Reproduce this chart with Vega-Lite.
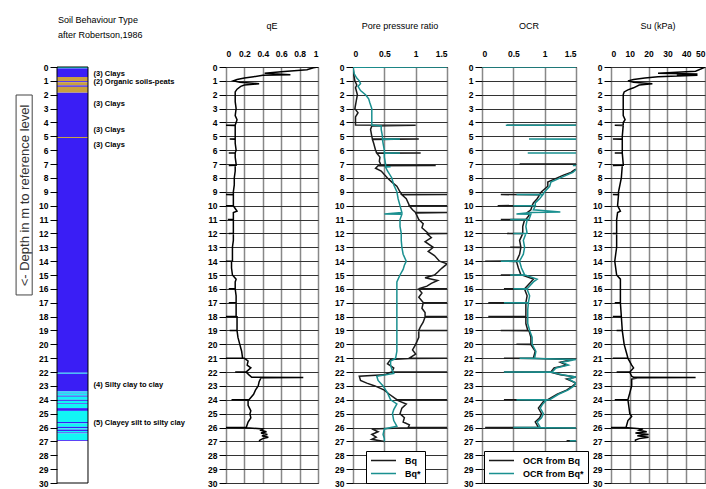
{
"$schema": "https://vega.github.io/schema/vega-lite/v6.json",
"autosize": {"type": "none"},
"padding": {"left": 57, "top": 67, "right": 649, "bottom": 422},
"background": "white",
"config": {
  "font": "Liberation Sans",
  "view": {"stroke": "black", "strokeWidth": 1},
  "axis": {"labelFont": "Liberation Sans", "labelFontSize": 8.5, "labelFontWeight": "bold", "labelColor": "black", "tickColor": "black", "domain": false},
  "axisY": {"grid": true, "gridColor": "#333", "gridWidth": 1, "tickSize": 7, "labelPadding": 2},
  "axisX": {"grid": true, "gridColor": "#888", "gridWidth": 1.5, "ticks": false, "labelPadding": 9},
  "title": {"font": "Liberation Sans", "fontSize": 9, "fontWeight": "normal", "color": "black", "offset": 18},
  "legend": {"orient": "none", "title": null, "strokeColor": "black", "fillColor": "white", "padding": 4, "symbolType": "stroke", "symbolSize": 625, "clipHeight": 11, "symbolStrokeWidth": 1.5, "labelFont": "Liberation Sans", "labelFontSize": 9, "labelFontWeight": "bold", "labelColor": "black", "rowPadding": 2, "labelOffset": 8, "cornerRadius": 0}
},
"resolve": {"scale": {"color": "independent", "x": "independent", "y": "independent"}, "legend": {"color": "independent"}},
"datasets": {
  "soil": [
    {"d0":0,"d1":0.1,"t":"c"},{"d0":0.1,"d1":0.72,"t":"b"},{"d0":0.72,"d1":1.02,"t":"g"},{"d0":1.02,"d1":1.1,"t":"b"},{"d0":1.1,"d1":1.33,"t":"g"},{"d0":1.33,"d1":1.43,"t":"b"},{"d0":1.43,"d1":1.85,"t":"g"},{"d0":1.85,"d1":5.05,"t":"b"},{"d0":5.05,"d1":5.12,"t":"g"},{"d0":5.12,"d1":22.05,"t":"b"},{"d0":22.05,"d1":22.12,"t":"c"},{"d0":22.12,"d1":23.4,"t":"b"},{"d0":23.4,"d1":23.5,"t":"c"},{"d0":23.5,"d1":23.55,"t":"b"},{"d0":23.55,"d1":23.7,"t":"c"},{"d0":23.7,"d1":23.78,"t":"b"},{"d0":23.78,"d1":24.0,"t":"c"},{"d0":24.0,"d1":24.08,"t":"b"},{"d0":24.08,"d1":24.25,"t":"c"},{"d0":24.25,"d1":24.3,"t":"b"},{"d0":24.3,"d1":24.6,"t":"c"},{"d0":24.6,"d1":24.8,"t":"b"},{"d0":24.8,"d1":25.6,"t":"c"},{"d0":25.6,"d1":25.7,"t":"b"},{"d0":25.7,"d1":25.95,"t":"c"},{"d0":25.95,"d1":26.05,"t":"b"},{"d0":26.05,"d1":26.15,"t":"c"},{"d0":26.15,"d1":26.25,"t":"b"},{"d0":26.25,"d1":26.35,"t":"c"},{"d0":26.35,"d1":26.42,"t":"b"},{"d0":26.42,"d1":26.9,"t":"c"},{"d0":26.9,"d1":26.96,"t":"b"}
  ],
  "labels": [
    {"d":0.5,"label":"(3) Clays"},{"d":1.1,"label":"(2) Organic soils-peats"},{"d":2.7,"label":"(3) Clays"},{"d":4.55,"label":"(3) Clays"},{"d":5.66,"label":"(3) Clays"},{"d":22.9,"label":"(4) Silty clay to clay"},{"d":25.7,"label":"(5) Clayey silt to silty clay"}
  ],
  "qE": [
    {"d":0,"v":1},{"d":0.05,"v":0.95},{"d":0.2,"v":0.88},{"d":0.35,"v":0.6},{"d":0.45,"v":0.42},{"d":0.55,"v":0.7},{"d":0.6,"v":0.4},{"d":0.7,"v":0.3},{"d":0.8,"v":0.2},{"d":0.9,"v":0.12},{"d":1.0,"v":0.08},{"d":1.1,"v":0.15},{"d":1.2,"v":0.36},{"d":1.3,"v":0.2},{"d":1.4,"v":0.16},{"d":1.6,"v":0.12},{"d":1.8,"v":0.1},{"d":2.0,"v":0.1},{"d":2.5,"v":0.1},{"d":3.0,"v":0.11},{"d":3.5,"v":0.1},{"d":3.8,"v":0.12},{"d":4.0,"v":0.11},{"d":4.19,"v":0.1},{"d":4.2,"v":0.0},{"d":4.21,"v":0.1},{"d":4.5,"v":0.1},{"d":5.0,"v":0.1},{"d":5.19,"v":0.1},{"d":5.2,"v":0.04},{"d":5.21,"v":0.1},{"d":5.5,"v":0.1},{"d":6.0,"v":0.11},{"d":6.19,"v":0.1},{"d":6.2,"v":0.03},{"d":6.21,"v":0.1},{"d":6.5,"v":0.1},{"d":7.0,"v":0.11},{"d":7.09,"v":0.11},{"d":7.1,"v":0.03},{"d":7.11,"v":0.1},{"d":7.5,"v":0.1},{"d":8.0,"v":0.09},{"d":8.5,"v":0.09},{"d":9.0,"v":0.08},{"d":9.19,"v":0.08},{"d":9.2,"v":0.0},{"d":9.21,"v":0.08},{"d":9.5,"v":0.08},{"d":9.99,"v":0.08},{"d":10.0,"v":0.0},{"d":10.01,"v":0.08},{"d":10.4,"v":0.12},{"d":10.5,"v":0.08},{"d":10.99,"v":0.08},{"d":11.0,"v":0.02},{"d":11.01,"v":0.08},{"d":11.5,"v":0.08},{"d":11.99,"v":0.08},{"d":12.0,"v":0.03},{"d":12.01,"v":0.08},{"d":12.5,"v":0.08},{"d":13.0,"v":0.07},{"d":13.5,"v":0.07},{"d":13.99,"v":0.07},{"d":14.0,"v":0.0},{"d":14.01,"v":0.06},{"d":14.5,"v":0.06},{"d":15.0,"v":0.07},{"d":15.3,"v":0.11},{"d":15.5,"v":0.1},{"d":15.99,"v":0.1},{"d":16.0,"v":0.03},{"d":16.01,"v":0.1},{"d":16.5,"v":0.11},{"d":16.99,"v":0.11},{"d":17.0,"v":0.03},{"d":17.01,"v":0.11},{"d":17.5,"v":0.11},{"d":17.99,"v":0.11},{"d":18.0,"v":0.0},{"d":18.01,"v":0.12},{"d":18.5,"v":0.12},{"d":18.99,"v":0.12},{"d":19.0,"v":0.04},{"d":19.01,"v":0.12},{"d":19.5,"v":0.13},{"d":20.0,"v":0.15},{"d":20.5,"v":0.17},{"d":20.99,"v":0.18},{"d":21.0,"v":0.0},{"d":21.01,"v":0.2},{"d":21.2,"v":0.24},{"d":21.5,"v":0.23},{"d":21.7,"v":0.27},{"d":21.99,"v":0.22},{"d":22.0,"v":0.1},{"d":22.01,"v":0.22},{"d":22.2,"v":0.25},{"d":22.38,"v":0.28},{"d":22.4,"v":0.84},{"d":22.42,"v":0.38},{"d":22.7,"v":0.36},{"d":23.0,"v":0.35},{"d":23.3,"v":0.32},{"d":23.6,"v":0.3},{"d":23.99,"v":0.25},{"d":24.0,"v":0.06},{"d":24.01,"v":0.24},{"d":24.4,"v":0.24},{"d":24.8,"v":0.27},{"d":25.0,"v":0.26},{"d":25.3,"v":0.27},{"d":25.6,"v":0.24},{"d":25.99,"v":0.22},{"d":26.0,"v":0.0},{"d":26.02,"v":0.22},{"d":26.1,"v":0.4},{"d":26.2,"v":0.38},{"d":26.3,"v":0.44},{"d":26.4,"v":0.38},{"d":26.5,"v":0.45},{"d":26.6,"v":0.39},{"d":26.7,"v":0.46},{"d":26.8,"v":0.4},{"d":26.9,"v":0.37},{"d":27.0,"v":0.36}
  ],
  "Bq": [
    {"d":0,"v":0.0},{"d":0.5,"v":0.01},{"d":1.0,"v":0.03},{"d":1.3,"v":0.06},{"d":1.5,"v":0.04},{"d":2.0,"v":0.07},{"d":2.5,"v":0.05},{"d":3.0,"v":0.03},{"d":3.3,"v":0.08},{"d":3.6,"v":0.04},{"d":4.0,"v":0.04},{"d":4.19,"v":0.04},{"d":4.2,"v":1.0},{"d":4.25,"v":0.3},{"d":4.5,"v":0.28},{"d":5.0,"v":0.3},{"d":5.19,"v":0.31},{"d":5.2,"v":1.05},{"d":5.22,"v":0.31},{"d":5.5,"v":0.33},{"d":6.0,"v":0.36},{"d":6.19,"v":0.38},{"d":6.2,"v":1.08},{"d":6.22,"v":0.38},{"d":6.5,"v":0.43},{"d":6.8,"v":0.42},{"d":7.0,"v":0.44},{"d":7.09,"v":0.45},{"d":7.1,"v":1.32},{"d":7.12,"v":0.4},{"d":7.3,"v":0.36},{"d":7.5,"v":0.45},{"d":8.0,"v":0.55},{"d":8.3,"v":0.62},{"d":8.6,"v":0.7},{"d":9.0,"v":0.75},{"d":9.19,"v":0.78},{"d":9.2,"v":1.5},{"d":9.22,"v":0.78},{"d":9.5,"v":0.85},{"d":9.99,"v":0.9},{"d":10.0,"v":1.5},{"d":10.02,"v":0.9},{"d":10.3,"v":0.95},{"d":10.49,"v":1.0},{"d":10.5,"v":1.5},{"d":10.52,"v":1.0},{"d":11.0,"v":1.05},{"d":11.3,"v":1.12},{"d":11.6,"v":1.1},{"d":11.99,"v":1.2},{"d":12.0,"v":1.5},{"d":12.02,"v":1.18},{"d":12.3,"v":1.25},{"d":12.6,"v":1.15},{"d":13.0,"v":1.28},{"d":13.3,"v":1.2},{"d":13.6,"v":1.3},{"d":14.0,"v":1.38},{"d":14.2,"v":1.5},{"d":14.5,"v":1.42},{"d":14.8,"v":1.35},{"d":15.0,"v":1.3},{"d":15.2,"v":1.15},{"d":15.4,"v":1.35},{"d":15.6,"v":1.25},{"d":15.8,"v":1.18},{"d":15.99,"v":1.05},{"d":16.0,"v":1.5},{"d":16.02,"v":1.05},{"d":16.3,"v":1.1},{"d":16.6,"v":1.05},{"d":16.99,"v":1.12},{"d":17.0,"v":1.5},{"d":17.02,"v":1.12},{"d":17.4,"v":1.1},{"d":17.7,"v":1.15},{"d":17.99,"v":1.15},{"d":18.0,"v":1.5},{"d":18.02,"v":1.15},{"d":18.4,"v":1.12},{"d":18.7,"v":1.08},{"d":18.99,"v":1.05},{"d":19.0,"v":1.5},{"d":19.02,"v":1.05},{"d":19.5,"v":1.05},{"d":20.0,"v":1.0},{"d":20.4,"v":0.95},{"d":20.7,"v":1.0},{"d":20.99,"v":0.9},{"d":21.0,"v":1.5},{"d":21.02,"v":0.9},{"d":21.1,"v":0.6},{"d":21.4,"v":0.55},{"d":21.7,"v":0.65},{"d":21.99,"v":0.62},{"d":22.0,"v":1.5},{"d":22.02,"v":0.6},{"d":22.2,"v":0.5},{"d":22.3,"v":0.1},{"d":22.6,"v":0.12},{"d":22.8,"v":0.22},{"d":23.0,"v":0.35},{"d":23.3,"v":0.5},{"d":23.6,"v":0.58},{"d":23.99,"v":0.7},{"d":24.0,"v":1.5},{"d":24.02,"v":0.7},{"d":24.3,"v":0.85},{"d":24.6,"v":0.78},{"d":25.0,"v":0.75},{"d":25.3,"v":0.82},{"d":25.6,"v":0.8},{"d":25.8,"v":0.9},{"d":25.99,"v":0.88},{"d":26.0,"v":1.5},{"d":26.02,"v":0.88},{"d":26.1,"v":0.3},{"d":26.3,"v":0.4},{"d":26.5,"v":0.3},{"d":26.7,"v":0.37},{"d":26.85,"v":0.3},{"d":27.0,"v":0.5}
  ],
  "Bqs": [
    {"d":0,"v":1.5},{"d":0.02,"v":0.0},{"d":0.5,"v":0.02},{"d":0.8,"v":0.06},{"d":1.0,"v":0.1},{"d":1.2,"v":0.12},{"d":1.4,"v":0.08},{"d":1.7,"v":0.12},{"d":2.0,"v":0.2},{"d":2.3,"v":0.25},{"d":2.6,"v":0.27},{"d":3.0,"v":0.3},{"d":3.5,"v":0.3},{"d":4.0,"v":0.3},{"d":4.19,"v":0.3},{"d":4.25,"v":0.45},{"d":4.5,"v":0.45},{"d":5.0,"v":0.47},{"d":5.19,"v":0.47},{"d":5.2,"v":0.75},{"d":5.22,"v":0.47},{"d":5.5,"v":0.48},{"d":6.0,"v":0.5},{"d":6.19,"v":0.5},{"d":6.2,"v":0.75},{"d":6.22,"v":0.5},{"d":6.5,"v":0.5},{"d":7.0,"v":0.52},{"d":7.19,"v":0.52},{"d":7.2,"v":0.6},{"d":7.22,"v":0.52},{"d":7.5,"v":0.55},{"d":8.0,"v":0.62},{"d":8.5,"v":0.65},{"d":9.0,"v":0.7},{"d":9.5,"v":0.72},{"d":10.0,"v":0.75},{"d":10.5,"v":0.78},{"d":10.6,"v":0.5},{"d":10.62,"v":0.78},{"d":11.0,"v":0.75},{"d":11.5,"v":0.75},{"d":12.0,"v":0.77},{"d":12.5,"v":0.77},{"d":13.0,"v":0.78},{"d":13.5,"v":0.8},{"d":14.0,"v":0.85},{"d":14.3,"v":0.82},{"d":14.6,"v":0.8},{"d":15.0,"v":0.75},{"d":15.5,"v":0.7},{"d":16.0,"v":0.7},{"d":17.0,"v":0.7},{"d":18.0,"v":0.7},{"d":19.0,"v":0.7},{"d":20.0,"v":0.7},{"d":20.5,"v":0.7},{"d":21.0,"v":0.68},{"d":21.2,"v":0.6},{"d":21.5,"v":0.6},{"d":21.8,"v":0.62},{"d":22.1,"v":0.65},{"d":22.3,"v":0.38},{"d":22.6,"v":0.4},{"d":23.0,"v":0.48},{"d":23.5,"v":0.55},{"d":24.0,"v":0.6},{"d":24.3,"v":0.7},{"d":24.7,"v":0.65},{"d":25.0,"v":0.63},{"d":25.5,"v":0.65},{"d":25.9,"v":0.7},{"d":26.1,"v":0.5},{"d":26.5,"v":0.48},{"d":26.8,"v":0.5},{"d":27.0,"v":0.5}
  ],
  "OCRBq": [
    {"d":0,"v":3},{"d":4.19,"v":3},{"d":4.2,"v":0.4},{"d":4.22,"v":3},{"d":6.99,"v":3},{"d":7.0,"v":0.6},{"d":7.02,"v":3},{"d":7.25,"v":1.6},{"d":7.4,"v":1.48},{"d":7.6,"v":1.42},{"d":7.8,"v":1.3},{"d":8.0,"v":1.2},{"d":8.3,"v":1.05},{"d":8.6,"v":1.05},{"d":9.0,"v":0.95},{"d":9.19,"v":0.92},{"d":9.2,"v":0.3},{"d":9.22,"v":0.92},{"d":9.5,"v":0.88},{"d":9.8,"v":0.82},{"d":9.99,"v":0.8},{"d":10.0,"v":0.25},{"d":10.02,"v":0.8},{"d":10.3,"v":0.78},{"d":10.5,"v":0.72},{"d":10.7,"v":0.75},{"d":10.99,"v":0.7},{"d":11.0,"v":0.3},{"d":11.02,"v":0.68},{"d":11.5,"v":0.65},{"d":11.99,"v":0.65},{"d":12.0,"v":0.4},{"d":12.02,"v":0.65},{"d":12.5,"v":0.6},{"d":12.99,"v":0.62},{"d":13.0,"v":0.45},{"d":13.02,"v":0.62},{"d":13.5,"v":0.6},{"d":13.99,"v":0.55},{"d":14.0,"v":0.05},{"d":14.02,"v":0.55},{"d":14.5,"v":0.58},{"d":14.99,"v":0.62},{"d":15.0,"v":0.3},{"d":15.02,"v":0.65},{"d":15.3,"v":0.82},{"d":15.5,"v":0.78},{"d":15.99,"v":0.68},{"d":16.0,"v":0.35},{"d":16.02,"v":0.68},{"d":16.5,"v":0.72},{"d":16.99,"v":0.7},{"d":17.0,"v":0.1},{"d":17.02,"v":0.7},{"d":17.5,"v":0.7},{"d":17.99,"v":0.7},{"d":18.0,"v":0.1},{"d":18.02,"v":0.7},{"d":18.5,"v":0.7},{"d":18.99,"v":0.73},{"d":19.0,"v":0.3},{"d":19.02,"v":0.75},{"d":19.5,"v":0.78},{"d":19.99,"v":0.78},{"d":20.0,"v":0.55},{"d":20.02,"v":0.78},{"d":20.5,"v":0.85},{"d":20.99,"v":0.82},{"d":21.0,"v":0.35},{"d":21.02,"v":0.85},{"d":21.1,"v":1.45},{"d":21.3,"v":1.25},{"d":21.5,"v":1.35},{"d":21.7,"v":1.15},{"d":21.99,"v":1.1},{"d":22.0,"v":0.35},{"d":22.02,"v":1.1},{"d":22.2,"v":1.25},{"d":22.35,"v":1.5},{"d":22.5,"v":1.35},{"d":22.8,"v":1.5},{"d":23.0,"v":1.45},{"d":23.3,"v":1.35},{"d":23.6,"v":1.2},{"d":23.99,"v":1.05},{"d":24.0,"v":0.35},{"d":24.02,"v":1.0},{"d":24.3,"v":0.95},{"d":24.6,"v":0.9},{"d":25.0,"v":0.95},{"d":25.3,"v":0.92},{"d":25.6,"v":0.85},{"d":25.99,"v":0.9},{"d":26.0,"v":0.05},{"d":26.02,"v":0.92},{"d":26.1,"v":3},{"d":26.9,"v":3},{"d":26.95,"v":1.35},{"d":27.0,"v":3}
  ],
  "OCRBqs": [
    {"d":0,"v":0},{"d":0.005,"v":3},{"d":4.19,"v":3},{"d":4.2,"v":0.38},{"d":4.22,"v":3},{"d":5.19,"v":3},{"d":5.2,"v":0.75},{"d":5.22,"v":3},{"d":6.19,"v":3},{"d":6.2,"v":0.73},{"d":6.22,"v":3},{"d":7.05,"v":3},{"d":7.1,"v":1.45},{"d":7.15,"v":3},{"d":7.25,"v":1.6},{"d":7.4,"v":1.5},{"d":7.6,"v":1.45},{"d":7.8,"v":1.35},{"d":8.0,"v":1.25},{"d":8.3,"v":1.1},{"d":8.6,"v":1.08},{"d":9.0,"v":1.0},{"d":9.19,"v":0.97},{"d":9.2,"v":0.55},{"d":9.22,"v":0.97},{"d":9.5,"v":0.92},{"d":9.8,"v":0.85},{"d":9.99,"v":0.85},{"d":10.0,"v":0.5},{"d":10.02,"v":0.85},{"d":10.3,"v":0.82},{"d":10.45,"v":1.25},{"d":10.5,"v":0.78},{"d":10.6,"v":0.55},{"d":10.62,"v":0.78},{"d":10.99,"v":0.75},{"d":11.0,"v":0.45},{"d":11.02,"v":0.72},{"d":11.5,"v":0.7},{"d":11.99,"v":0.72},{"d":12.0,"v":0.5},{"d":12.02,"v":0.7},{"d":12.5,"v":0.66},{"d":13.0,"v":0.68},{"d":13.5,"v":0.66},{"d":13.99,"v":0.6},{"d":14.0,"v":0.3},{"d":14.02,"v":0.6},{"d":14.5,"v":0.63},{"d":14.99,"v":0.68},{"d":15.0,"v":0.45},{"d":15.02,"v":0.7},{"d":15.3,"v":0.88},{"d":15.5,"v":0.82},{"d":15.99,"v":0.72},{"d":16.0,"v":0.5},{"d":16.02,"v":0.72},{"d":16.5,"v":0.76},{"d":16.99,"v":0.74},{"d":17.0,"v":0.35},{"d":17.02,"v":0.74},{"d":17.5,"v":0.73},{"d":18.0,"v":0.73},{"d":18.5,"v":0.73},{"d":19.0,"v":0.76},{"d":19.5,"v":0.8},{"d":20.0,"v":0.8},{"d":20.5,"v":0.86},{"d":20.99,"v":0.84},{"d":21.0,"v":0.6},{"d":21.02,"v":0.86},{"d":21.1,"v":1.5},{"d":21.3,"v":1.28},{"d":21.5,"v":1.38},{"d":21.7,"v":1.18},{"d":21.99,"v":1.12},{"d":22.0,"v":0.35},{"d":22.02,"v":1.12},{"d":22.2,"v":1.28},{"d":22.35,"v":1.5},{"d":22.5,"v":1.38},{"d":22.8,"v":1.5},{"d":23.0,"v":1.47},{"d":23.3,"v":1.37},{"d":23.6,"v":1.22},{"d":23.99,"v":1.08},{"d":24.0,"v":0.55},{"d":24.02,"v":1.03},{"d":24.3,"v":0.97},{"d":24.6,"v":0.93},{"d":25.0,"v":0.98},{"d":25.3,"v":0.95},{"d":25.6,"v":0.88},{"d":25.99,"v":0.93},{"d":26.0,"v":0.5},{"d":26.02,"v":0.95},{"d":26.1,"v":3},{"d":26.9,"v":3},{"d":26.95,"v":1.4},{"d":27.0,"v":3}
  ],
  "Su": [
    {"d":0,"v":20},{"d":0.02,"v":50},{"d":0.3,"v":45},{"d":0.42,"v":30},{"d":0.45,"v":25},{"d":0.5,"v":46},{"d":0.55,"v":35},{"d":0.6,"v":46},{"d":0.7,"v":25},{"d":0.8,"v":18},{"d":0.9,"v":12},{"d":1.0,"v":9},{"d":1.1,"v":12},{"d":1.2,"v":22},{"d":1.3,"v":15},{"d":1.5,"v":12},{"d":1.65,"v":9},{"d":1.8,"v":7},{"d":2.0,"v":6.5},{"d":2.5,"v":6.5},{"d":3.0,"v":6.5},{"d":3.5,"v":6.5},{"d":3.8,"v":7.5},{"d":4.0,"v":6.5},{"d":4.19,"v":6.5},{"d":4.2,"v":2},{"d":4.21,"v":6.5},{"d":5.0,"v":6},{"d":5.19,"v":6},{"d":5.2,"v":1},{"d":5.21,"v":6},{"d":6.0,"v":6},{"d":6.19,"v":6},{"d":6.2,"v":2},{"d":6.21,"v":6},{"d":7.0,"v":6.5},{"d":7.09,"v":6.5},{"d":7.1,"v":1},{"d":7.11,"v":6},{"d":8.0,"v":5.5},{"d":9.0,"v":4},{"d":9.19,"v":4},{"d":9.2,"v":1},{"d":9.21,"v":4},{"d":10.0,"v":3.5},{"d":10.4,"v":5},{"d":10.5,"v":3.5},{"d":11.0,"v":3},{"d":12.0,"v":3},{"d":12.01,"v":1},{"d":12.02,"v":3},{"d":13.0,"v":3},{"d":14.0,"v":2},{"d":14.5,"v":2.5},{"d":15.0,"v":3},{"d":15.3,"v":5},{"d":16.0,"v":5},{"d":16.99,"v":5},{"d":17.0,"v":2},{"d":17.01,"v":5},{"d":17.99,"v":5.5},{"d":18.0,"v":1},{"d":18.01,"v":5.5},{"d":18.99,"v":6},{"d":19.0,"v":3},{"d":19.01,"v":6},{"d":20.0,"v":7},{"d":20.5,"v":8},{"d":20.99,"v":9},{"d":21.0,"v":1},{"d":21.01,"v":9},{"d":21.5,"v":11},{"d":21.7,"v":12},{"d":21.99,"v":10},{"d":22.0,"v":3},{"d":22.01,"v":10},{"d":22.3,"v":11},{"d":22.38,"v":12},{"d":22.4,"v":45},{"d":22.42,"v":14},{"d":22.5,"v":11},{"d":23.0,"v":11},{"d":23.5,"v":10},{"d":23.99,"v":9},{"d":24.0,"v":2},{"d":24.01,"v":9},{"d":24.5,"v":9.5},{"d":25.0,"v":10},{"d":25.2,"v":11},{"d":25.5,"v":9},{"d":25.99,"v":8},{"d":26.0,"v":0},{"d":26.02,"v":9},{"d":26.1,"v":17},{"d":26.2,"v":15},{"d":26.3,"v":19},{"d":26.4,"v":13},{"d":26.5,"v":20},{"d":26.6,"v":14},{"d":26.7,"v":20},{"d":26.8,"v":15},{"d":26.9,"v":13},{"d":27.0,"v":13}
  ]
},
"bounds": "flush",
"spacing": 35,
"hconcat": [
  {
    "width": 134, "height": 416,
    "view": {"stroke": null},
    "title": {"text": ["Soil Behaviour Type", "after Robertson,1986"], "anchor": "start", "frame": "group", "lineHeight": 15, "offset": 23, "dx": 1},
    "encoding": {
      "y": {"type": "quantitative", "scale": {"domain": [0, 30], "reverse": true, "nice": false},
            "axis": {"values": [0,1,2,3,4,5,6,7,8,9,10,11,12,13,14,15,16,17,18,19,20,21,22,23,24,25,26,27,28,29,30], "grid": false, "zindex": 1,
                     "title": "<- Depth in m to reference level", "titleAngle": -90, "titleX": -33, "titleY": 128, "titleAlign": "center", "titleBaseline": "middle",
                     "titleFont": "Liberation Sans", "titleFontSize": 13, "titleFontWeight": "normal", "titleColor": "#333"}}
    },
    "layer": [
      {
        "data": {"values": [{}]},
        "mark": {"type": "rect", "fill": null, "stroke": "#444", "strokeWidth": 1},
        "encoding": {
          "x": {"datum": -1.32, "type": "quantitative", "scale": {"domain": [0, 4.3226], "nice": false, "zero": false}, "axis": null},
          "x2": {"datum": -0.8},
          "y": {"datum": 2.02, "type": "quantitative"},
          "y2": {"datum": 16.44}
        }
      },
      {
        "data": {"name": "soil"},
        "mark": {"type": "rect"},
        "encoding": {
          "x": {"datum": 0, "type": "quantitative"},
          "x2": {"datum": 1},
          "y": {"field": "d0", "type": "quantitative"},
          "y2": {"field": "d1"},
          "color": {"field": "t", "type": "nominal", "scale": {"domain": ["b", "g", "c"], "range": ["#3a1ef5", "#c8a040", "#12f5f5"]}, "legend": null}
        }
      },
      {
        "data": {"values": [{}]},
        "mark": {"type": "rect", "fill": null, "stroke": "black", "strokeWidth": 1},
        "encoding": {
          "x": {"datum": 0, "type": "quantitative"},
          "x2": {"datum": 1},
          "y": {"datum": 0, "type": "quantitative"},
          "y2": {"datum": 30}
        }
      },
      {
        "data": {"name": "labels"},
        "mark": {"type": "text", "align": "left", "baseline": "middle", "font": "Liberation Sans", "fontSize": 7.5, "fontWeight": "bold", "color": "black"},
        "encoding": {
          "x": {"datum": 1.18, "type": "quantitative"},
          "y": {"field": "d", "type": "quantitative"},
          "text": {"field": "label"}
        }
      }
    ]
  },
  {
    "width": 92, "height": 416,
    "title": {"text": "qE"},
    "data": {"name": "qE"},
    "mark": {"type": "line", "clip": true, "strokeWidth": 1.5, "color": "black"},
    "encoding": {
      "x": {"field": "v", "type": "quantitative", "scale": {"domain": [0, 1], "nice": false}, "axis": {"orient": "top", "values": [0, 0.2, 0.4, 0.6, 0.8, 1], "format": "~g", "title": null}},
      "y": {"field": "d", "type": "quantitative", "scale": {"domain": [0, 30], "reverse": true, "nice": false}, "axis": {"values": [0,1,2,3,4,5,6,7,8,9,10,11,12,13,14,15,16,17,18,19,20,21,22,23,24,25,26,27,28,29,30], "title": null}},
      "order": {"field": "d", "type": "quantitative"}
    }
  },
  {
    "width": 94, "height": 416,
    "title": {"text": "Pore pressure ratio"},
    "encoding": {
      "x": {"field": "v", "type": "quantitative", "scale": {"domain": [0, 1.5], "nice": false}, "axis": {"orient": "top", "values": [0, 0.5, 1, 1.5], "format": "~g", "title": null}},
      "y": {"field": "d", "type": "quantitative", "scale": {"domain": [0, 30], "reverse": true, "nice": false}, "axis": {"values": [0,1,2,3,4,5,6,7,8,9,10,11,12,13,14,15,16,17,18,19,20,21,22,23,24,25,26,27,28,29,30], "title": null}},
      "order": {"field": "d", "type": "quantitative"}
    },
    "layer": [
      {"data": {"name": "Bq"}, "mark": {"type": "line", "clip": true, "strokeWidth": 1.5},
       "encoding": {"color": {"datum": "Bq", "type": "nominal", "scale": {"domain": ["Bq", "Bq*"], "range": ["#1a1a1a", "#1a9090"]}, "legend": {"legendX": 13, "legendY": 384}}}},
      {"data": {"name": "Bqs"}, "mark": {"type": "line", "clip": true, "strokeWidth": 1.5},
       "encoding": {"color": {"datum": "Bq*", "type": "nominal"}}}
    ]
  },
  {
    "width": 94, "height": 416,
    "title": {"text": "OCR"},
    "encoding": {
      "x": {"field": "v", "type": "quantitative", "scale": {"domain": [0, 1.5], "nice": false}, "axis": {"orient": "top", "values": [0, 0.5, 1, 1.5], "format": "~g", "title": null}},
      "y": {"field": "d", "type": "quantitative", "scale": {"domain": [0, 30], "reverse": true, "nice": false}, "axis": {"values": [0,1,2,3,4,5,6,7,8,9,10,11,12,13,14,15,16,17,18,19,20,21,22,23,24,25,26,27,28,29,30], "title": null}},
      "order": {"field": "d", "type": "quantitative"}
    },
    "layer": [
      {"data": {"name": "OCRBq"}, "mark": {"type": "line", "clip": true, "strokeWidth": 1.5},
       "encoding": {"color": {"datum": "OCR from Bq", "type": "nominal", "scale": {"domain": ["OCR from Bq", "OCR from Bq*"], "range": ["#1a1a1a", "#1a9090"]}, "legend": {"legendX": 2, "legendY": 384}}}},
      {"data": {"name": "OCRBqs"}, "mark": {"type": "line", "clip": true, "strokeWidth": 1.5},
       "encoding": {"color": {"datum": "OCR from Bq*", "type": "nominal"}}}
    ]
  },
  {
    "width": 94, "height": 416,
    "title": {"text": "Su (kPa)"},
    "data": {"name": "Su"},
    "mark": {"type": "line", "clip": true, "strokeWidth": 1.5, "color": "black"},
    "encoding": {
      "x": {"field": "v", "type": "quantitative", "scale": {"domain": [0, 50], "nice": false}, "axis": {"orient": "top", "values": [0, 10, 20, 30, 40, 50], "format": "d", "title": null}},
      "y": {"field": "d", "type": "quantitative", "scale": {"domain": [0, 30], "reverse": true, "nice": false}, "axis": {"values": [0,1,2,3,4,5,6,7,8,9,10,11,12,13,14,15,16,17,18,19,20,21,22,23,24,25,26,27,28,29,30], "title": null}},
      "order": {"field": "d", "type": "quantitative"}
    }
  }
]
}
